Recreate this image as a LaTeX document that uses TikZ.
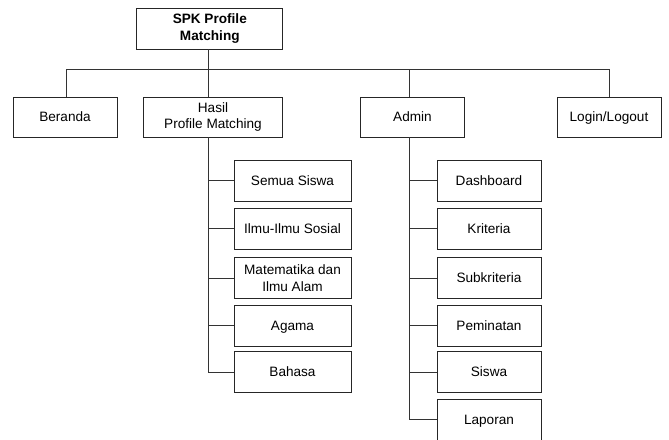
\documentclass[tikz,border=0pt]{standalone}
\usepackage{fontspec}
\setmainfont{Liberation Sans}
\begin{document}
\begin{tikzpicture}[x=1pt,y=-1pt,
  box/.style={draw=black!85, line width=0.8pt, fill=white, align=center,
    inner sep=0pt, font=\fontsize{13.6}{16.5}\selectfont},
  oneline/.style={text height=9.8pt, text depth=0pt},
  topbox/.style={box, minimum width=146pt, minimum height=41pt,
    font=\fontsize{13.6}{16.5}\selectfont\bfseries},
  mainbox/.style={box, minimum height=40pt},
  subA/.style={box, minimum width=117pt, minimum height=41pt},
  subB/.style={box, oneline, minimum width=104pt, minimum height=41pt},
  link/.style={draw=black!80, line width=0.8pt}]
\useasboundingbox (0,0) rectangle (669,439);

% root and first level
\node[topbox] (root) at (209.8,28.5) {SPK Profile\\Matching};
\node[mainbox, oneline, minimum width=104pt] (beranda) at (65,117) {Beranda};
\node[mainbox, minimum width=139.5pt] (hasil) at (213,117) {Hasil\\Profile Matching};
\node[mainbox, oneline, minimum width=103.5pt] (admin) at (412.5,117) {Admin};
\node[mainbox, oneline, minimum width=104pt] (login) at (609,117) {Login/Logout};

% branch lines
\coordinate (bus) at (0,69);
\coordinate (hx) at (208.4,0);
\coordinate (ax) at (409.2,0);

% children of Hasil Profile Matching
\node[subA, oneline] (semua) at (292.5,180.5) {Semua Siswa};
\node[subA, oneline] (sosial) at (292.5,228.5) {Ilmu-Ilmu Sosial};
\node[subA] (mipa) at (292.5,278) {Matematika dan\\Ilmu Alam};
\node[subA, oneline] (agama) at (292.5,325.5) {Agama};
\node[subA, oneline] (bahasa) at (292.5,372) {Bahasa};

% children of Admin
\node[subB] (dash) at (489,180.5) {Dashboard};
\node[subB] (krit) at (489,228.5) {Kriteria};
\node[subB] (subkrit) at (489,278) {Subkriteria};
\node[subB] (minat) at (489,325.5) {Peminatan};
\node[subB] (siswa) at (489,372) {Siswa};
\node[subB] (lapor) at (489,419.5) {Laporan};

% root to first level
\draw[link] (root.south-|hx) -- (bus-|hx);
\draw[link] (beranda.north-|66,0) |- (bus-|login.north) -- (login.north);
\draw[link] (bus-|hx) -- (hasil.north-|hx);
\draw[link] (bus-|ax) -- (admin.north-|ax);

% Hasil subtree
\draw[link] (hasil.south-|hx) |- (bahasa.west);
\foreach \c in {semua,sosial,mipa,agama}
  \draw[link] (\c.west-|hx) -- (\c.west);

% Admin subtree
\draw[link] (admin.south-|ax) |- (lapor.west);
\foreach \c in {dash,krit,subkrit,minat,siswa}
  \draw[link] (\c.west-|ax) -- (\c.west);
\end{tikzpicture}
\end{document}
